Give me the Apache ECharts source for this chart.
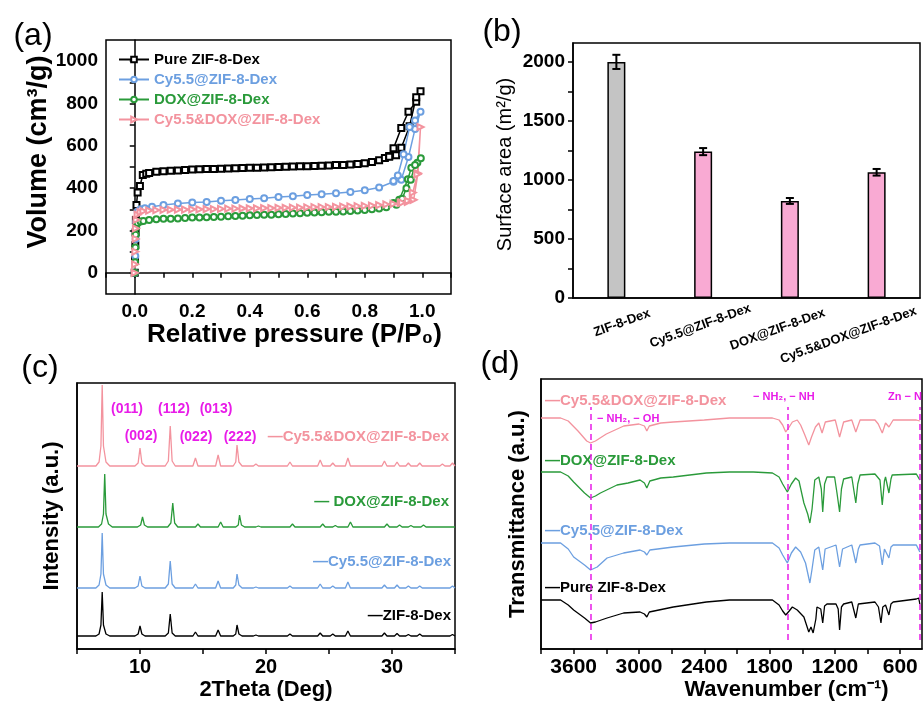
<!DOCTYPE html>
<html>
<head>
<meta charset="utf-8">
<title>ZIF-8-Dex characterization</title>
<script src="https://cdn.jsdelivr.net/npm/echarts@6/dist/echarts.min.js"></script>
<style>
    html, body { margin: 0; padding: 0; background: #fff; }
    #main { width: 923px; height: 702px; }
</style>
</head>
<body>
<div id="main"></div>
<script type="text/javascript">
// (a) N2 isotherms, [P/P0, volume]
var isoPure = [[0,0],[0.001,60],[0.002,130],[0.003,190],[0.004,250],[0.006,320],[0.01,380],[0.018,410],[0.028,462],[0.04,468],
    [0.05,472],[0.075,477],[0.1,480],[0.125,482],[0.15,484],[0.175,486],[0.2,488],[0.225,489],[0.25,490],[0.275,491],[0.3,492],
    [0.325,493],[0.35,494],[0.375,495],[0.4,496],[0.425,497],[0.45,498],[0.475,499],[0.5,500],[0.525,501],[0.55,502],[0.575,503],
    [0.6,504],[0.625,505],[0.65,506],[0.675,507],[0.7,509],[0.725,510],[0.75,512],[0.775,514],[0.8,518],[0.825,524],[0.85,532],
    [0.87,542],[0.885,552],[0.9,588],[0.927,684],[0.952,761],[0.979,808],[0.994,858],
    [0.979,830],[0.956,693],[0.927,591],[0.909,556],[0.885,548]];
var isoCy = [[0,0],[0.002,80],[0.003,160],[0.005,240],[0.01,290],[0.02,300],[0.035,305],[0.06,312],[0.1,321],[0.15,327],[0.2,332],
    [0.25,335],[0.3,340],[0.35,344],[0.4,349],[0.45,352],[0.5,358],[0.55,362],[0.6,368],[0.65,371],[0.7,376],[0.75,382],
    [0.8,390],[0.85,403],[0.9,430],[0.927,440],[0.952,547],[0.975,680],[0.994,761],
    [0.975,720],[0.956,689],[0.935,560],[0.915,460],[0.9,434]];
var isoDox = [[0,0],[0.001,50],[0.002,120],[0.003,180],[0.005,215],[0.01,235],[0.02,242],[0.03,245],[0.05,250],[0.075,253],
    [0.1,255],[0.125,256],[0.15,257],[0.175,259],[0.2,261],[0.225,262],[0.25,263],[0.275,264],[0.3,265],[0.325,267],[0.35,268],
    [0.375,270],[0.4,272],[0.425,273],[0.45,274],[0.475,275],[0.5,277],[0.525,278],[0.55,280],[0.575,282],[0.6,284],[0.625,285],
    [0.65,286],[0.675,288],[0.7,289],[0.725,290],[0.75,292],[0.775,294],[0.8,297],[0.825,300],[0.85,304],[0.875,310],[0.9,330],
    [0.92,345],[0.95,442],[0.962,497],[0.983,520],[0.995,541],
    [0.975,510],[0.96,440],[0.945,400],[0.93,350],[0.91,322]];
var isoCyDox = [[0,0],[0.001,40],[0.002,100],[0.003,160],[0.004,210],[0.006,250],[0.01,275],[0.02,287],[0.03,292],[0.05,294],
    [0.075,296],[0.1,297],[0.125,298],[0.15,299],[0.175,299],[0.2,300],[0.225,300],[0.25,301],[0.275,301],[0.3,302],[0.325,303],
    [0.35,303],[0.375,304],[0.4,305],[0.425,305],[0.45,306],[0.475,306],[0.5,307],[0.525,307],[0.55,308],[0.575,308],[0.6,309],
    [0.625,310],[0.65,310],[0.675,311],[0.7,312],[0.725,313],[0.75,314],[0.775,315],[0.8,316],[0.825,318],[0.85,320],[0.875,323],
    [0.9,326],[0.925,330],[0.95,335],[0.97,345],[0.985,470],[0.994,689],
    [0.983,465],[0.967,379],[0.95,340],[0.93,332]];
var aXTicks = [-0.1,0,0.1,0.2,0.3,0.4,0.5,0.6,0.7,0.8,0.9,1.0,1.1];
var aXLabels = [0,0.2,0.4,0.6,0.8,1.0];
var aYTicks = [0,100,200,300,400,500,600,700,800,900,1000];
var aYLabels = [0,200,400,600,800,1000];

// (b) BET surface area
var barCats = ['ZIF-8-Dex','Cy5.5@ZIF-8-Dex','DOX@ZIF-8-Dex','Cy5.5&DOX@ZIF-8-Dex'];
var barValues = [2000,1240,822,1065];
var barErrors = [60,30,25,28];
var bYTicks = [0,250,500,750,1000,1250,1500,1750,2000];
var bYLabels = [0,500,1000,1500,2000];

// (c) XRD patterns, [2theta, intensity above own baseline]
var xrdPure = [[5,0],[6.5,0],[6.75,2],[6.9,11],[7.0,44],[7.1,11],[7.3,2],[7.6,0],
    [9.6,0],[9.85,2],[10.0,10],[10.15,2],[10.4,0],[12.0,0],[12.25,3],[12.4,22],[12.55,3],[12.8,0],
    [14.2,0],[14.4,4],[14.6,0],[16.0,0],[16.2,6],[16.4,0],[17.4,0],[17.6,2],[17.7,11],[17.85,2],[18.1,0],
    [19.0,0],[19.2,1],[19.4,0],[21.7,0],[21.9,2],[22.1,0],[24.1,0],[24.3,3],[24.5,0],[25.1,0],[25.3,2],[25.5,0],
    [26.3,0],[26.5,5],[26.7,0],[29.2,0],[29.4,3],[29.6,0],[30.2,0],[30.4,2.5],[30.6,0],[31.1,0],[31.3,1.5],[31.5,0],
    [32.0,0],[32.2,2],[32.4,0],[34.6,0],[34.8,1.5],[35,0]];
var xrdCy = [[5,0],[6.5,0],[6.75,3],[6.9,14],[7.0,55],[7.1,14],[7.3,3],[7.6,0],
    [9.6,0],[9.85,2],[10.0,12],[10.15,2],[10.4,0],[12.0,0],[12.25,4],[12.4,27],[12.55,4],[12.8,0],
    [14.2,0],[14.4,4],[14.6,0],[16.0,0],[16.2,7],[16.4,0],[17.4,0],[17.6,3],[17.7,14],[17.85,3],[18.1,0],
    [19.0,0],[19.2,1],[19.4,0],[21.7,0],[21.9,2],[22.1,0],[24.1,0],[24.3,4],[24.5,0],[25.1,0],[25.3,2],[25.5,0],
    [26.3,0],[26.5,6],[26.7,0],[29.2,0],[29.4,3],[29.6,0],[30.2,0],[30.4,3],[30.6,0],[31.1,0],[31.3,2],[31.5,0],
    [32.0,0],[32.2,2],[32.4,0],[34.6,0],[34.8,2],[35,0]];
var xrdDox = [[5,0],[6.7,0],[6.95,3],[7.1,13],[7.2,53],[7.3,13],[7.5,3],[7.8,0],
    [9.8,0],[10.05,2],[10.2,10],[10.35,2],[10.6,0],[12.2,0],[12.45,4],[12.6,24],[12.75,4],[13.0,0],
    [14.4,0],[14.6,3],[14.8,0],[16.2,0],[16.4,5],[16.6,0],[17.6,0],[17.8,2],[17.9,12],[18.05,2],[18.3,0],
    [19.2,0],[19.4,1],[19.6,0],[21.9,0],[22.1,3],[22.3,0],[24.3,0],[24.5,3],[24.7,0],[25.3,0],[25.5,1.5],[25.7,0],
    [26.5,0],[26.7,5],[26.9,0],[29.4,0],[29.6,3],[29.8,0],[30.4,0],[30.6,2],[30.8,0],[31.3,0],[31.5,1.5],[31.7,0],
    [32.3,0],[32.5,2],[32.7,0],[35,0]];
var xrdCyDox = [[5,0],[6.5,0],[6.75,4],[6.9,20],[7.0,81],[7.1,20],[7.3,4],[7.6,0],
    [9.6,0],[9.85,3],[10.0,18],[10.15,3],[10.4,0],[12.0,0],[12.25,5],[12.4,40],[12.55,5],[12.8,0],
    [14.2,0],[14.4,8],[14.6,0],[16.0,0],[16.2,11],[16.4,0],[17.4,0],[17.6,4],[17.7,21],[17.85,4],[18.1,0],
    [19.0,0],[19.2,2],[19.4,0],[21.7,0],[21.9,4],[22.1,0],[24.1,0],[24.3,6],[24.5,0],[25.1,0],[25.3,3],[25.5,0],
    [26.3,0],[26.5,8],[26.7,0],[29.2,0],[29.4,5],[29.6,0],[30.2,0],[30.4,4],[30.6,0],[31.1,0],[31.3,3],[31.5,0],
    [32.0,0],[32.2,3],[32.4,0],[33.8,0],[34.0,2],[34.2,0],[34.6,0],[34.8,3],[35,0]];
var xrdOffsets = [13, 61, 122, 183];
var cXTicks = [5,10,15,20,25,30,35];
var cXLabels = [10,20,30];
var hklLabels = ['(011)','(112)','(013)','(002)','(022)','(222)'];

// (d) FTIR spectra, [wavenumber, transmittance a.u.]
var ftirPure = [[3900,49],[3720,49],[3650,44],[3600,39],[3500,31],[3445,26],[3400,27],[3293,31],[3141,36],[2990,37],
    [2950,35],[2928,32],[2905,37],[2685,42],[2381,47],[2169,49],[1950,49],[1774,49],[1713,44],[1680,38],[1652,34],
    [1620,38],[1591,42],[1546,39],[1485,32],[1440,17],[1420,22],[1409,20],[1400,16],[1388,14],[1375,30],[1365,42],
    [1330,40],[1312,26],[1295,43],[1273,45],[1190,45],[1170,40],[1157,19],[1140,42],[1120,45],[1045,47],[1008,31],
    [985,45],[969,47],[832,47],[800,42],[777,26],[760,42],[735,44],[704,34],[685,45],[665,47],[452,50],[430,51],[420,45]];
var ftirCy = [[3900,106],[3720,106],[3650,100],[3600,92],[3500,84],[3445,79],[3384,82],[3293,91],[3141,96],[2990,99],
    [2950,97],[2928,94],[2900,99],[2685,102],[2400,105],[2169,106],[1950,106],[1774,106],[1713,101],[1680,94],[1637,86],
    [1600,96],[1561,102],[1515,97],[1470,86],[1430,66],[1410,80],[1385,99],[1348,102],[1312,79],[1290,100],[1273,102],
    [1190,104],[1157,82],[1130,100],[1045,104],[1008,86],[985,100],[969,104],[832,106],[790,103],[765,84],[745,100],
    [735,102],[704,91],[685,102],[665,104],[452,104],[420,97]];
var ftirDox = [[3900,177],[3720,177],[3650,173],[3600,167],[3500,156],[3445,151],[3400,153],[3354,156],[3202,164],[3100,166],
    [2990,169],[2950,166],[2928,161],[2900,168],[2800,171],[2685,172],[2381,176],[2169,177],[1950,177],[1774,176],[1713,172],
    [1680,165],[1637,157],[1600,165],[1561,171],[1530,168],[1515,166],[1485,146],[1450,135],[1430,126],[1410,140],[1385,169],
    [1348,172],[1325,160],[1312,137],[1295,165],[1273,172],[1203,172],[1181,156],[1157,137],[1140,160],[1120,170],[1045,172],
    [1008,146],[990,165],[969,174],[832,175],[786,169],[765,144],[745,168],[735,172],[704,156],[685,170],[674,174],[452,175],[420,169]];
var ftirCyDox = [[3900,231],[3720,231],[3650,228],[3560,218],[3480,208],[3445,206],[3400,208],[3300,215],[3200,220],[3140,223],
    [3000,225],[2950,223],[2928,218],[2905,223],[2800,226],[2685,227],[2400,229],[2169,231],[1950,231],[1774,231],[1713,229],
    [1680,224],[1652,217],[1620,222],[1591,227],[1546,229],[1515,224],[1480,215],[1440,204],[1415,212],[1379,222],[1348,226],
    [1318,216],[1288,227],[1197,229],[1157,212],[1120,227],[1045,229],[1008,217],[969,229],[832,229],[802,225],[765,216],
    [735,226],[704,222],[665,229],[452,229],[420,228]];
var ftirBands = [3445, 1637, 421];
var bandLabels = ['\u2212 NH\u2082, \u2212 OH', '\u2212 NH\u2082, \u2212 NH', 'Zn \u2212 N'];
var dXTicks = [600,900,1200,1500,1800,2100,2400,2700,3000,3300,3600,3900];
var dXLabels = [600,1200,1800,2400,3000,3600];

var FONT = '"Liberation Sans", Arial, sans-serif';
var C_BLACK = '#000000', C_BLUE = '#6c9fe0', C_GREEN = '#2a9a3a', C_PINK = '#f3939e', C_MAG = '#e81ce8';

function shift(arr, off) {
    return arr.map(function (p) { return [p[0], p[1] + off]; });
}
function boxAxis() {
    return { show: true, lineStyle: { color: '#000', width: 1.5 } };
}
function plain(v) { return String(v); }
function txt(x, y, s, color, font, align) {
    return { type: 'text', x: x, y: y, silent: true,
        style: { text: s, fill: color, font: font, align: align || 'left', textAlign: align || 'left',
                 verticalAlign: 'middle', textVerticalAlign: 'middle' } };
}

// per-label nudges for the slanted bar labels
var barLabelRich = {};
[[0, 0, 0, 12], [0, 6, 0, 0], [0, 26, 0, 0], [0, 60, 0, 0]].forEach(function (p, i) {
    barLabelRich['r' + i] = { fontSize: 13, fontWeight: 'bold', color: '#000', fontFamily: FONT, padding: p };
});

var chart = echarts.init(document.getElementById('main'));

var option = {
    animation: false,
    backgroundColor: '#fff',
    textStyle: { fontFamily: FONT },
    grid: [
        { left: 106, top: 40, width: 345, height: 254, show: true, borderColor: '#000', borderWidth: 1.5, outerBoundsMode: 'none' },
        { left: 573, top: 43, width: 347, height: 255, show: true, borderColor: '#000', borderWidth: 1.5, outerBoundsMode: 'none' },
        { left: 77, top: 383, width: 378, height: 266, show: true, borderColor: '#000', borderWidth: 1.5, outerBoundsMode: 'none' },
        { left: 541, top: 379, width: 381, height: 270, show: true, borderColor: '#000', borderWidth: 1.5, outerBoundsMode: 'none' }
    ],
    legend: [{
        orient: 'vertical', left: 118, top: 52, padding: 0, itemGap: 5, itemWidth: 30, itemHeight: 7,
        textStyle: { fontWeight: 'bold', fontSize: 15, fontFamily: FONT },
        data: [
            { name: 'Pure ZIF-8-Dex', textStyle: { color: C_BLACK } },
            { name: 'Cy5.5@ZIF-8-Dex', textStyle: { color: C_BLUE } },
            { name: 'DOX@ZIF-8-Dex', textStyle: { color: C_GREEN } },
            { name: 'Cy5.5&DOX@ZIF-8-Dex', textStyle: { color: C_PINK } }
        ]
    }],
    xAxis: [
        { gridIndex: 0, type: 'value', min: -0.1, max: 1.1, axisLine: boxAxis(), splitLine: { show: false },
          axisTick: { customValues: aXTicks, length: 5, lineStyle: { width: 1.5 } },
          axisLabel: { customValues: aXLabels, margin: 8, fontSize: 19, fontWeight: 'bold', color: '#000',
                       formatter: function (v) { return v.toFixed(1); } },
          name: 'Relative pressure (P/P\u2080)', nameLocation: 'middle', nameGap: 20,
          nameTextStyle: { fontSize: 26, fontWeight: 'bold', color: '#000', padding: [0, 0, 0, 32] } },
        { gridIndex: 1, type: 'category', data: barCats, axisLine: boxAxis(), axisTick: { show: false },
          axisLabel: { interval: 0, rotate: 20, margin: 27, align: 'center', rich: barLabelRich,
                       fontSize: 13, fontWeight: 'bold', color: '#000',
                       formatter: function (v, i) { return '{r' + i + '|' + v + '}'; } } },
        { gridIndex: 2, type: 'value', min: 5, max: 35, axisLine: boxAxis(), splitLine: { show: false },
          axisTick: { customValues: cXTicks, length: 5, lineStyle: { width: 1.5 } },
          axisLabel: { customValues: cXLabels, margin: 8, fontSize: 20, fontWeight: 'bold', color: '#000', formatter: plain },
          name: '2Theta (Deg)', nameLocation: 'middle', nameGap: 30,
          nameTextStyle: { fontSize: 22, fontWeight: 'bold', color: '#000' } },
        { gridIndex: 3, type: 'value', min: 400, max: 3900, inverse: true, axisLine: boxAxis(), splitLine: { show: false },
          axisTick: { customValues: dXTicks, length: 5, lineStyle: { width: 1.5 } },
          axisLabel: { customValues: dXLabels, margin: 8, fontSize: 21, fontWeight: 'bold', color: '#000', formatter: plain },
          name: 'Wavenumber (cm\u207B\u00B9)', nameLocation: 'middle', nameGap: 30,
          nameTextStyle: { fontSize: 22, fontWeight: 'bold', color: '#000', padding: [0, 0, 0, 110] } }
    ],
    yAxis: [
        { gridIndex: 0, type: 'value', min: -100, max: 1100, axisLine: boxAxis(), splitLine: { show: false },
          axisTick: { show: true, customValues: aYTicks, length: 5, lineStyle: { width: 1.5 } },
          axisLabel: { customValues: aYLabels, margin: 8, fontSize: 19, fontWeight: 'bold', color: '#000', formatter: plain },
          name: 'Volume (cm\u00B3/g)', nameLocation: 'middle', nameGap: 32,
          nameTextStyle: { fontSize: 27, fontWeight: 'bold', color: '#000', padding: [0, 0, 0, 30] } },
        { gridIndex: 1, type: 'value', min: 0, max: 2160, axisLine: boxAxis(), splitLine: { show: false },
          axisTick: { show: true, customValues: bYTicks, length: 5, lineStyle: { width: 1.5 } },
          axisLabel: { customValues: bYLabels, margin: 8, fontSize: 19, fontWeight: 'bold', color: '#000', formatter: plain },
          name: 'Surface area (m\u00B2/g)', nameLocation: 'middle', nameGap: 58,
          nameTextStyle: { fontSize: 20, color: '#000', padding: [0, 0, 0, 12] } },
        { gridIndex: 2, type: 'value', min: 0, max: 266, axisLine: boxAxis(), splitLine: { show: false },
          axisTick: { show: false }, axisLabel: { show: false },
          name: 'Intensity (a.u.)', nameLocation: 'middle', nameGap: 14,
          nameTextStyle: { fontSize: 22, fontWeight: 'bold', color: '#000' } },
        { gridIndex: 3, type: 'value', min: 0, max: 270, axisLine: boxAxis(), splitLine: { show: false },
          axisTick: { show: false }, axisLabel: { show: false },
          name: 'Transmittance (a.u.)', nameLocation: 'middle', nameGap: 12,
          nameTextStyle: { fontSize: 22, fontWeight: 'bold', color: '#000' } }
    ],
    series: [],
    graphic: []
};

// (a) isotherms
[['Pure ZIF-8-Dex', isoPure, C_BLACK, 'emptyRect', 6, 0],
 ['Cy5.5@ZIF-8-Dex', isoCy, C_BLUE, 'emptyCircle', 6, 0],
 ['DOX@ZIF-8-Dex', isoDox, C_GREEN, 'emptyCircle', 6, 0],
 ['Cy5.5&DOX@ZIF-8-Dex', isoCyDox, C_PINK, 'emptyTriangle', 6, -90]].forEach(function (s) {
    option.series.push({
        type: 'line', name: s[0], xAxisIndex: 0, yAxisIndex: 0, data: s[1],
        symbol: s[3], symbolSize: s[4], symbolRotate: s[5], showAllSymbol: true,
        lineStyle: { color: s[2], width: 1.5 }, itemStyle: { color: s[2], borderWidth: 1.2 }
    });
});

// (b) bars + error bars
var barColors = ['#c4c4c4', '#f9aad3', '#f9aad3', '#f9aad3'];
option.series.push({
    type: 'bar', name: 'BET', xAxisIndex: 1, yAxisIndex: 1, barWidth: 18,
    data: barValues.map(function (v, i) {
        return { value: v, itemStyle: { color: barColors[i], borderColor: '#000', borderWidth: 1.5 } };
    })
});
option.series.push({
    type: 'custom', name: 'BET error', xAxisIndex: 1, yAxisIndex: 1, z: 5,
    data: barValues.map(function (v, i) { return [i, v - barErrors[i], v + barErrors[i]]; }),
    renderItem: function (params, api) {
        var hi = api.coord([api.value(0), api.value(2)]);
        var lo = api.coord([api.value(0), api.value(1)]);
        var w = 4, st = { stroke: '#000', lineWidth: 2 };
        return { type: 'group', children: [
            { type: 'line', shape: { x1: hi[0], y1: hi[1], x2: lo[0], y2: lo[1] }, style: st },
            { type: 'line', shape: { x1: hi[0] - w, y1: hi[1], x2: hi[0] + w, y2: hi[1] }, style: st },
            { type: 'line', shape: { x1: lo[0] - w, y1: lo[1], x2: lo[0] + w, y2: lo[1] }, style: st }
        ] };
    }
});

// (c) XRD
[['XRD ZIF-8-Dex', xrdPure, C_BLACK, 0],
 ['XRD Cy5.5@ZIF-8-Dex', xrdCy, C_BLUE, 1],
 ['XRD DOX@ZIF-8-Dex', xrdDox, C_GREEN, 2],
 ['XRD Cy5.5&DOX@ZIF-8-Dex', xrdCyDox, C_PINK, 3]].forEach(function (s) {
    option.series.push({
        type: 'line', name: s[0], xAxisIndex: 2, yAxisIndex: 2, data: shift(s[1], xrdOffsets[s[3]]),
        symbol: 'none', lineStyle: { color: s[2], width: 1.3 }
    });
});

// (d) FTIR
[['FTIR Pure ZIF-8-Dex', ftirPure, C_BLACK],
 ['FTIR Cy5.5@ZIF-8-Dex', ftirCy, C_BLUE],
 ['FTIR DOX@ZIF-8-Dex', ftirDox, C_GREEN],
 ['FTIR Cy5.5&DOX@ZIF-8-Dex', ftirCyDox, C_PINK]].forEach(function (s) {
    option.series.push({
        type: 'line', name: s[0], xAxisIndex: 3, yAxisIndex: 3, data: s[1],
        symbol: 'none', lineStyle: { color: s[2], width: 1.3 }
    });
});
option.series.push({
    type: 'line', name: 'FTIR bands', xAxisIndex: 3, yAxisIndex: 3, data: [], symbol: 'none',
    markLine: {
        silent: true, symbol: 'none', label: { show: false },
        lineStyle: { type: [6, 4], color: C_MAG, width: 1.5 },
        data: ftirBands.map(function (b) { return [{ coord: [b, 9] }, { coord: [b, 242] }]; })
    }
});

// panel letters and annotations
var g = option.graphic;
g.push(txt(33, 36, '(a)', '#000', '32px ' + FONT, 'center'));
g.push(txt(502, 32, '(b)', '#000', '32px ' + FONT, 'center'));
g.push(txt(40, 368, '(c)', '#000', '32px ' + FONT, 'center'));
g.push(txt(500, 364, '(d)', '#000', '32px ' + FONT, 'center'));

var fLab = 'bold 15px ' + FONT;
g.push(txt(449, 437, '\u2014Cy5.5&DOX@ZIF-8-Dex', C_PINK, fLab, 'right'));
g.push(txt(449, 502, '\u2014 DOX@ZIF-8-Dex', C_GREEN, fLab, 'right'));
g.push(txt(451, 562, '\u2014Cy5.5@ZIF-8-Dex', C_BLUE, fLab, 'right'));
g.push(txt(451, 616, '\u2014ZIF-8-Dex', C_BLACK, fLab, 'right'));

var hklPos = [[127, 409], [174, 409], [216, 409], [141, 436], [196, 437], [240, 437]];
hklLabels.forEach(function (h, i) {
    g.push(txt(hklPos[i][0], hklPos[i][1], h, C_MAG, 'bold 14px ' + FONT, 'center'));
});

g.push(txt(545, 401, '\u2014Cy5.5&DOX@ZIF-8-Dex', C_PINK, fLab));
g.push(txt(545, 461, '\u2014DOX@ZIF-8-Dex', C_GREEN, fLab));
g.push(txt(545, 531, '\u2014Cy5.5@ZIF-8-Dex', C_BLUE, fLab));
g.push(txt(545, 588, '\u2014Pure ZIF-8-Dex', C_BLACK, fLab));

var bandPos = [[597, 419], [753, 397], [888, 397]];
bandLabels.forEach(function (b, i) {
    g.push(txt(bandPos[i][0], bandPos[i][1], b, C_MAG, 'bold 11px ' + FONT));
});

chart.setOption(option);
</script>
</body>
</html>
